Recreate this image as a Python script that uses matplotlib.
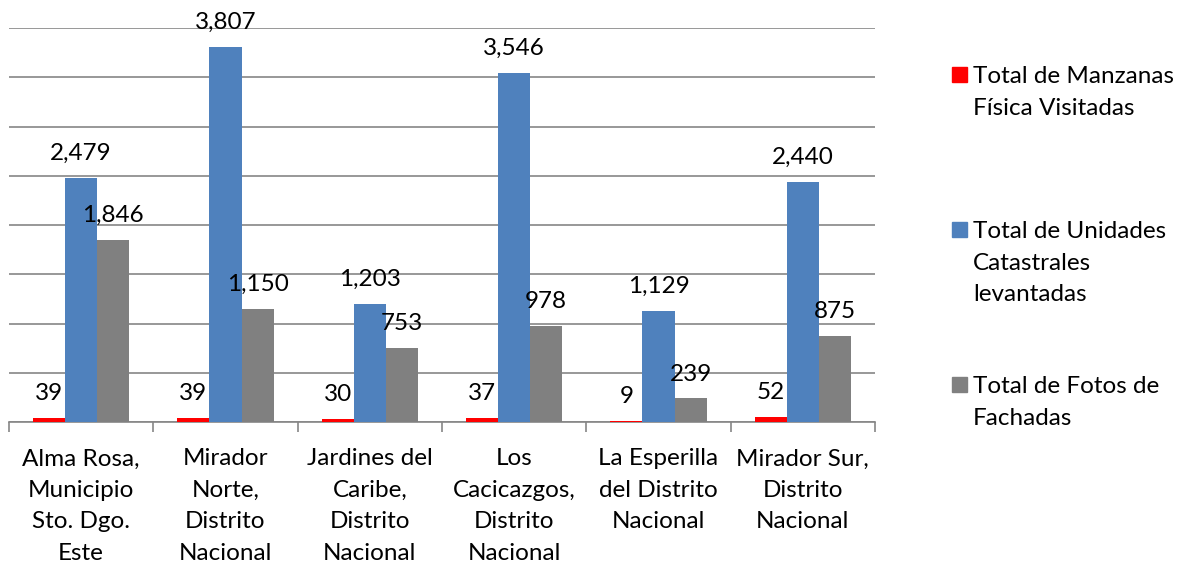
import numpy as np
import matplotlib.pyplot as plt
from matplotlib.patches import Rectangle

categorias = ["Alma Rosa,\nMunicipio\nSto. Dgo.\nEste",
              "Mirador\nNorte,\nDistrito\nNacional",
              "Jardines del\nCaribe,\nDistrito\nNacional",
              "Los\nCacicazgos,\nDistrito\nNacional",
              "La Esperilla\ndel Distrito\nNacional",
              "Mirador Sur,\nDistrito\nNacional"]
manzanas = [39, 39, 30, 37, 9, 52]
unidades = [2479, 3807, 1203, 3546, 1129, 2440]
fotos = [1846, 1150, 753, 978, 239, 875]
series_names = ["Total de Manzanas\nFísica Visitadas",
                "Total de Unidades\nCatastrales\nlevantadas",
                "Total de Fotos de\nFachadas"]
colores = ["#FF0000", "#4F81BD", "#808080"]

plt.rcParams['font.family'] = ['Lato', 'DejaVu Sans']
fs = 17.5
ls = 1.62

fig = plt.figure(figsize=(11.89, 5.67), dpi=100)
ax = fig.add_axes([9/1189, 1 - 422/567, (875 - 9)/1189, (422 - 28)/567])

x = np.arange(len(categorias))
w = 0.222
for i, (vals, col) in enumerate(zip([manzanas, unidades, fotos], colores)):
    bars = ax.bar(x + (i - 1) * w, vals, w, color=col, zorder=3)
    for b, v in zip(bars, vals):
        ax.annotate(f"{v:,}", (b.get_x() + b.get_width() / 2, v),
                    xytext=(0, 10), textcoords="offset points",
                    ha="center", va="bottom", fontsize=fs, zorder=4)

ax.set_xlim(-0.5, len(categorias) - 0.5)
ax.set_ylim(0, 4000)
ax.set_yticks(np.arange(0, 4001, 500))
ax.yaxis.grid(True, color="#868686", linewidth=1.2, zorder=0)
ax.tick_params(axis="y", left=False, labelleft=False)

ax.set_xticks(np.arange(-0.5, len(categorias), 1.0))
ax.set_xticklabels([])
ax.set_xticks(x, minor=True)
ax.set_xticklabels(categorias, minor=True, fontsize=fs, linespacing=ls)
ax.tick_params(axis="x", which="major", length=7, color="#868686", width=1.2)
ax.tick_params(axis="x", which="minor", length=0, pad=19)

for s in ["top", "right", "left"]:
    ax.spines[s].set_visible(False)
ax.spines["bottom"].set_color("#868686")
ax.spines["bottom"].set_linewidth(1.2)

# legend
leg_y = [75, 230, 385]
for name, col, yy in zip(series_names, colores, leg_y):
    fig.patches.append(Rectangle((952/1189, 1 - (yy + 7)/567), 15/1189, 15/567,
                                 transform=fig.transFigure, color=col))
    fig.text(973/1189, 1 - (yy - 9)/567, name, ha="left", va="top",
             fontsize=fs, linespacing=ls)

fig.savefig("out.png", dpi=100)
